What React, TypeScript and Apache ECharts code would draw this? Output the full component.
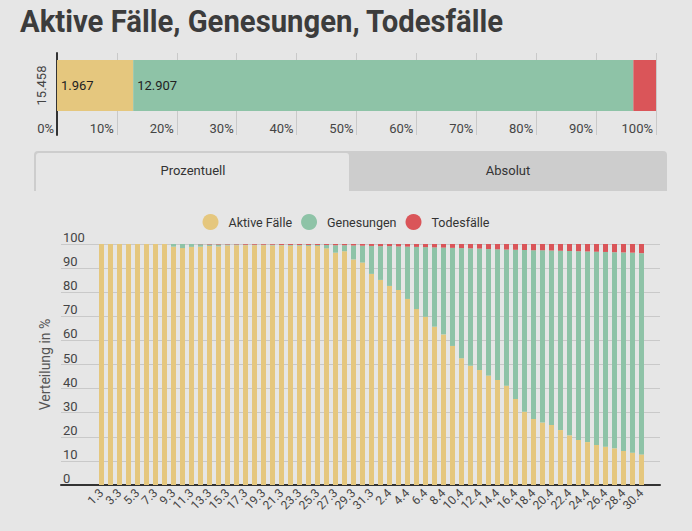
import React, { useEffect, useRef } from 'react';
import * as echarts from 'echarts';

const categories = [
  '1.3', '2.3', '3.3', '4.3', '5.3', '6.3', '7.3', '8.3', '9.3', '10.3',
  '11.3', '12.3', '13.3', '14.3', '15.3', '16.3', '17.3', '18.3', '19.3', '20.3',
  '21.3', '22.3', '23.3', '24.3', '25.3', '26.3', '27.3', '28.3', '29.3', '30.3',
  '31.3', '1.4', '2.4', '3.4', '4.4', '5.4', '6.4', '7.4', '8.4', '9.4',
  '10.4', '11.4', '12.4', '13.4', '14.4', '15.4', '16.4', '17.4', '18.4', '19.4',
  '20.4', '21.4', '22.4', '23.4', '24.4', '25.4', '26.4', '27.4', '28.4', '29.4',
  '30.4',
];

const activePct = [
  100, 100, 100, 100, 100, 100, 100, 100, 98.9, 98.3,
  98.8, 98.9, 99.2, 99.0, 99.4, 99.5, 99.5, 99.5, 99.5, 99.4,
  99.4, 99.3, 99.3, 99.2, 99.2, 98.2, 96.4, 97.0, 93.6, 92.3,
  87.6, 85.1, 82.6, 80.9, 77.2, 73.0, 69.8, 65.7, 62.5, 57.7,
  52.6, 49.5, 47.7, 45.4, 43.6, 41.2, 35.7, 30.4, 27.4, 25.9,
  24.9, 22.8, 20.6, 18.7, 17.8, 16.6, 15.9, 15.2, 14.1, 13.4,
  12.7,
];

const recoveredPct = [
  0, 0, 0, 0, 0, 0, 0, 0, 1.1, 1.7,
  1.2, 1.0, 0.6, 0.8, 0.4, 0.3, 0.2, 0.2, 0.2, 0.3,
  0.2, 0.3, 0.3, 0.4, 0.4, 1.4, 3.1, 2.5, 5.8, 7.0,
  11.6, 14.0, 16.5, 18.1, 21.7, 25.8, 28.9, 32.9, 36.0, 40.7,
  45.7, 48.7, 50.4, 52.5, 54.2, 56.5, 61.9, 67.1, 70.0, 71.5,
  72.4, 74.4, 76.5, 78.3, 79.1, 80.2, 80.8, 81.4, 82.4, 83.0,
  83.5,
];

const deathsPct = [
  0, 0, 0, 0, 0, 0, 0, 0, 0, 0,
  0, 0.1, 0.2, 0.2, 0.2, 0.2, 0.3, 0.3, 0.3, 0.3,
  0.4, 0.4, 0.4, 0.4, 0.4, 0.4, 0.5, 0.5, 0.6, 0.7,
  0.8, 0.9, 0.9, 1.0, 1.1, 1.2, 1.3, 1.4, 1.5, 1.6,
  1.7, 1.8, 1.9, 2.1, 2.2, 2.3, 2.4, 2.5, 2.6, 2.6,
  2.7, 2.8, 2.9, 3.0, 3.1, 3.2, 3.3, 3.4, 3.5, 3.6,
  3.8,
];

const seriesNames = ['Aktive Fälle', 'Genesungen', 'Todesfälle'];
const currentTotals = [1967, 12907, 584];
const totalLabel = '15.458';
const showTopLabel = [true, true, false];

const titleText = 'Aktive Fälle, Genesungen, Todesfälle';
const tabLabels = ['Prozentuell', 'Absolut'];

const COLORS = ['#e5c77e', '#8ec3a7', '#da5559'];
const BG = '#e6e6e6';

const fmtDE = (n: number) => String(n).replace(/\B(?=(\d{3})+(?!\d))/g, '.');

export default function App() {
  const ref = useRef<HTMLDivElement>(null);

  useEffect(() => {
    if (!ref.current) return;
    const chart = echarts.init(ref.current, undefined, { renderer: 'svg' });
    const sum = currentTotals.reduce((a, b) => a + b, 0);
    const pctSeries = [activePct, recoveredPct, deathsPct];

    const option: any = {
      animation: false,
      backgroundColor: BG,
      textStyle: { fontFamily: 'Roboto' },
      legend: {
        data: seriesNames,
        top: 209,
        left: 'center',
        icon: 'circle',
        itemWidth: 16,
        itemHeight: 16,
        itemGap: 9,
        textStyle: { fontSize: 12.5, color: '#333', padding: [0, 0, 0, 5] },
      },
      grid: [
        { left: 61, right: 32, top: 244, height: 241 },
        { left: 97, right: 46, top: 244, height: 241 },
        { left: 57, right: 36, top: 53, height: 82 },
        { left: 57, right: 36, top: 60, height: 51 },
      ],
      xAxis: [
        {
          gridIndex: 0, type: 'value', min: 0, max: 1,
          axisLine: { show: true, lineStyle: { color: '#333', width: 2 } },
          axisTick: { show: false }, axisLabel: { show: false }, splitLine: { show: false },
        },
        {
          gridIndex: 1, type: 'category', data: categories,
          axisLine: { show: false }, axisTick: { show: false },
          axisLabel: { interval: 1, rotate: 45, fontSize: 12, color: '#444', margin: 6 },
        },
        {
          gridIndex: 2, type: 'value', min: 0, max: 100, interval: 10,
          axisLine: { show: false }, axisTick: { show: false },
          splitLine: { show: true, lineStyle: { color: '#c9c9c9' } },
          axisLabel: {
            inside: true, formatter: '{value}%', align: 'right', padding: [0, 3, 0, 0],
            margin: 7, verticalAlign: 'middle', fontSize: 13, color: '#444',
          },
        },
        { gridIndex: 3, type: 'value', min: 0, max: 100, show: false },
      ],
      yAxis: [
        {
          gridIndex: 0, type: 'value', min: 0, max: 100, interval: 10,
          axisLine: { show: false }, axisTick: { show: false },
          splitLine: { show: true, lineStyle: { color: '#c9c9c9' } },
          axisLabel: { inside: true, verticalAlign: 'bottom', margin: 2, fontSize: 13, color: '#444' },
          name: 'Verteilung in %', nameLocation: 'middle', nameGap: 8,
          nameTextStyle: { fontSize: 14, color: '#555' },
        },
        { gridIndex: 1, type: 'value', min: 0, max: 100, show: false },
        {
          gridIndex: 2, type: 'category', data: [''],
          axisLine: { show: true, lineStyle: { color: '#333', width: 2 } },
          axisTick: { show: false }, axisLabel: { show: false },
        },
        {
          gridIndex: 3, type: 'category', data: [totalLabel],
          axisLine: { show: false }, axisTick: { show: false },
          axisLabel: { rotate: 90, fontSize: 13, color: '#444', margin: 9 },
        },
      ],
      series: [
        ...seriesNames.map((name, i) => ({
          name, type: 'bar', xAxisIndex: 1, yAxisIndex: 1, stack: 'pct',
          barWidth: 5, itemStyle: { color: COLORS[i] }, data: pctSeries[i],
        })),
        ...seriesNames.map((name, i) => ({
          name, type: 'bar', xAxisIndex: 3, yAxisIndex: 3, stack: 'abs',
          barWidth: 51, itemStyle: { color: COLORS[i] },
          data: [(currentTotals[i] / sum) * 100],
          label: {
            show: showTopLabel[i], position: 'insideLeft', distance: 4,
            fontSize: 13, color: '#222',
            formatter: () => fmtDE(currentTotals[i]),
          },
        })),
      ],
      graphic: [
        {
          type: 'text', x: 20, y: 5, scaleX: 0.915,
          style: { text: titleText, font: 'bold 32px Roboto', fill: '#3c3c3c' },
        },
        {
          type: 'rect', shape: { x: 34, y: 151, width: 633, height: 40, r: [4, 4, 0, 0] },
          style: { fill: '#cdcdcd' },
        },
        {
          type: 'rect', shape: { x: 36, y: 153, width: 313, height: 38, r: [3, 3, 0, 0] },
          style: { fill: BG },
        },
        {
          type: 'text', x: 193, y: 170,
          style: { text: tabLabels[0], font: '13px Roboto', fill: '#333', textAlign: 'center', textVerticalAlign: 'middle' },
        },
        {
          type: 'text', x: 508, y: 170,
          style: { text: tabLabels[1], font: '13px Roboto', fill: '#333', textAlign: 'center', textVerticalAlign: 'middle' },
        },
      ],
    };
    chart.setOption(option);
    return () => chart.dispose();
  }, []);

  return (
    <div
      ref={ref}
      style={{ position: 'fixed', left: 0, top: 0, width: 692, height: 531, background: BG }}
    />
  );
}
